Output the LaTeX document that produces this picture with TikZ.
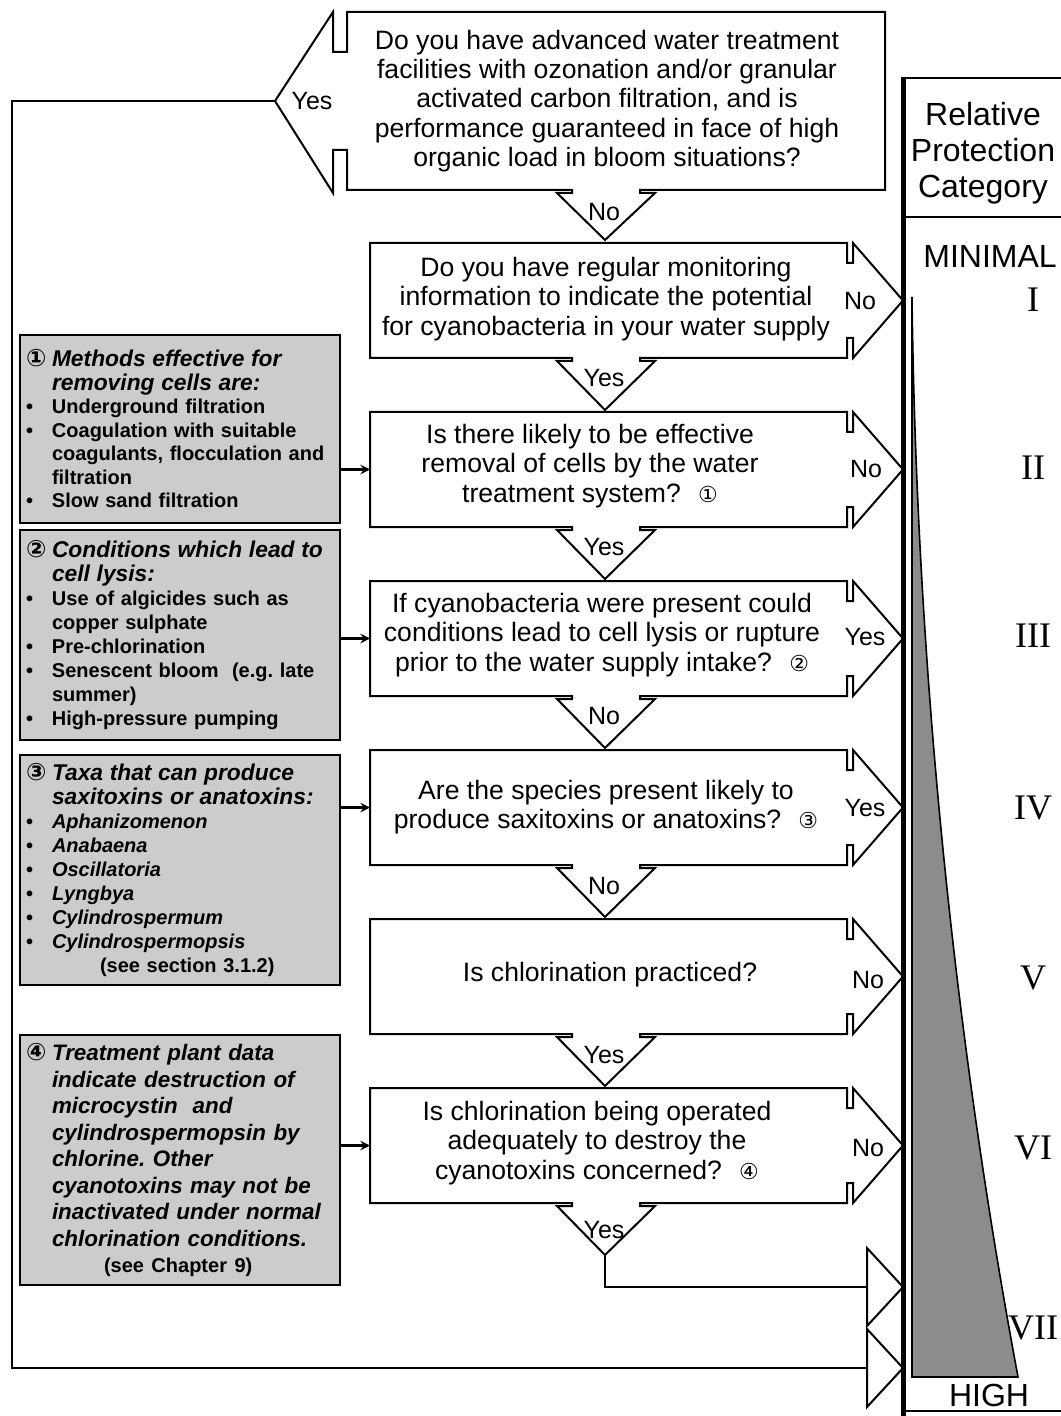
\documentclass[tikz,border=0pt]{standalone}
\usepackage{fontspec}
\setmainfont{Liberation Sans}
\newfontfamily\romfont{Liberation Serif}
\newfontfamily\circfont{DejaVu Sans}

\newcommand{\puce}{\makebox[13pt][l]{\textbullet}}
\newcommand{\retrait}{\hspace*{13pt}}
\newcommand{\numero}[1]{\makebox[13pt][l]{\circfont\fontsize{12}{10}\selectfont #1}}
\newcommand{\titre}{\fontsize{11.4}{11.75}\selectfont\itshape}
\newcommand{\rond}[1]{{\circfont\fontsize{11}{11}\selectfont #1}}

\begin{document}
\begin{tikzpicture}[x=0.5pt, y=-0.5pt,
    question/.style={inner sep=0pt, align=center, font=\fontsize{13.3}{14.6}\selectfont},
    reponse/.style={inner sep=0pt, font=\fontsize{12.5}{14}\selectfont},
    remarque/.style={draw, line width=0.8pt, fill=black!20, text width=154pt, inner xsep=3pt,
                     align=left, font=\frenchspacing\bfseries\fontsize{10}{12}\selectfont},
    contour/.style={line width=1pt, line join=miter},
    trait/.style={line width=1pt},
    fleche/.style={->, >=stealth, line width=1.1pt},
    categorie/.style={inner sep=0pt, align=center, font=\fontsize{16}{18}\selectfont},
    niveau/.style={inner sep=0pt, font=\romfont\fontsize{18}{18}\selectfont}
]
    \useasboundingbox (0,0) rectangle (1060,1416);

    % question boxes with their Yes/No arrows
    \draw[contour] (347,12) -- (885,12) -- (885,190) -- (640,190) -- (640,193) -- (655,193)
        -- (605,240) -- (557,193) -- (572,193) -- (572,190) -- (347,190) -- (347,150)
        -- (333,150) -- (333,193) -- (275,101) -- (333,12) -- (333,52) -- (347,52) -- cycle;
    \coordinate (oui0) at (275,101);

    \foreach \t [count=\i] in {243,412,581,750,919,1088}{
        \draw[contour] (370,\t) -- (847,\t) -- (847,\t+20) -- (853,\t+20) -- (853,\t)
            -- (903,\t+57.5) -- (853,\t+115) -- (853,\t+95) -- (847,\t+95) -- (847,\t+115)
            -- (640,\t+115) -- (640,\t+118) -- (655,\t+118) -- (605,\t+167) -- (557,\t+118)
            -- (572,\t+118) -- (572,\t+115) -- (370,\t+115) -- cycle;
        \coordinate (e\i) at (370,\t+57.5);
        \coordinate (v\i) at (605,\t+167);
    }

    \node[question] (q0) at (607,101) {Do you have advanced water treatment\\
        facilities with ozonation and/or granular\\ activated carbon filtration, and is\\
        performance guaranteed in face of high\\ organic load in bloom situations?};
    \node[question] (q1) at (606,299) {Do you have regular monitoring\\
        information to indicate the potential\\ for cyanobacteria in your water supply};
    \node[question] (q2) at (590,466) {Is there likely to be effective\\
        removal of cells by the water\\ treatment system?~ \rond{①}};
    \node[question] (q3) at (602,635) {If cyanobacteria were present could\\
        conditions lead to cell lysis or rupture\\ prior to the water supply intake?~ \rond{②}};
    \node[question] (q4) at (606,807) {Are the species present likely to\\
        produce saxitoxins or anatoxins?~ \rond{③}};
    \node[question] (q5) at (610,975) {Is chlorination practiced?};
    \node[question] (q6) at (597,1143) {Is chlorination being operated\\
        adequately to destroy the\\ cyanotoxins concerned?~ \rond{④}};

    \node[reponse] (r0) at (312,101) {Yes};
    \node[reponse] (b0) at (604,212) {No};
    \node[reponse] (r1) at (860,301) {No};
    \node[reponse] (b1) at (604,378) {Yes};
    \node[reponse] (r2) at (866,469) {No};
    \node[reponse] (b2) at (604,547) {Yes};
    \node[reponse] (r3) at (865,637) {Yes};
    \node[reponse] (b3) at (604,716) {No};
    \node[reponse] (r4) at (865,808) {Yes};
    \node[reponse] (b4) at (604,886) {No};
    \node[reponse] (r5) at (868,980) {No};
    \node[reponse] (b5) at (604,1055) {Yes};
    \node[reponse] (r6) at (868,1148) {No};
    \node[reponse] (b6) at (604,1230) {Yes};

    % side notes
    \node[remarque, minimum height=94pt, font=\frenchspacing\bfseries\fontsize{10}{11.75}\selectfont] (n1) at (180,429) {%
        \numero{①}{\titre Methods effective for}\\
        \retrait{\titre removing cells are:}\\
        \puce Underground filtration\\
        \puce Coagulation with suitable\\
        \retrait coagulants, flocculation and\\
        \retrait filtration\\
        \puce Slow sand filtration};
    \node[remarque, minimum height=105pt] (n2) at (180,635) {%
        \numero{②}{\titre Conditions which lead to}\\
        \retrait{\titre cell lysis:}\\
        \puce Use of algicides such as\\
        \retrait copper sulphate\\
        \puce Pre-chlorination\\
        \puce Senescent bloom~ (e.g. late\\
        \retrait summer)\\
        \puce High-pressure pumping};
    \node[remarque, minimum height=115pt] (n3) at (180,870) {%
        \numero{③}{\titre Taxa that can produce}\\
        \retrait{\titre saxitoxins or anatoxins:}\\
        \puce\textit{Aphanizomenon}\\
        \puce\textit{Anabaena}\\
        \puce\textit{Oscillatoria}\\
        \puce\textit{Lyngbya}\\
        \puce\textit{Cylindrospermum}\\
        \puce\textit{Cylindrospermopsis}\\
        \hspace*{37pt}(see section 3.1.2)};
    \node[remarque, minimum height=125pt, font=\frenchspacing\bfseries\itshape\fontsize{11.2}{13.25}\selectfont] (n4) at (180,1160) {%
        \numero{④}Treatment plant data\\
        \retrait indicate destruction of\\
        \retrait microcystin~ and\\
        \retrait cylindrospermopsin by\\
        \retrait chlorine. Other\\
        \retrait cyanotoxins may not be\\
        \retrait inactivated under normal\\
        \retrait chlorination conditions.\\
        \hspace*{39pt}{\upshape\fontsize{10}{13.25}\selectfont(see Chapter 9)}};

    \draw[fleche] (n1.east |- e2) -- (e2);
    \draw[fleche] (n2.east |- e3) -- (e3);
    \draw[fleche] (n3.east |- e4) -- (e4);
    \draw[fleche] (n4.east |- e6) -- (e6);

    % routes to the bottom of the scale
    \coordinate (entree1) at (867,1287);
    \coordinate (entree2) at (867,1368);
    \draw[trait] (v6) |- (entree1);
    \draw[trait] (oui0) -- ++(-263,0) |- (entree2);
    \draw[contour, fill=white] (867,1248) -- (903,1287) -- (867,1326) -- cycle;
    \draw[contour, fill=white] (867,1329) -- (903,1368) -- (867,1407) -- cycle;

    % protection scale
    \draw[line width=1.2pt] (903,78) -- (1062,78);
    \draw[line width=1.2pt] (903,217) -- (1062,217);
    \draw[line width=1.2pt] (903,1411) -- (1062,1411);
    \draw[line width=2.5pt] (903,77) -- (903,1416);
    \draw[line width=0.8pt, fill=black!45] (912,297) .. controls (918,800) and (985,1200) .. (1018,1377)
        -- (912,1377) -- cycle;

    \node[categorie] (cat) at (983,153) {Relative\\Protection\\Category};
    \node[categorie] (min) at (990,256) {MINIMAL};
    \node[categorie] (max) at (989,1395) {HIGH};
    \node[niveau] (c1) at (1033,300) {I};
    \node[niveau] (c2) at (1033,468) {II};
    \node[niveau] (c3) at (1033,636) {III};
    \node[niveau] (c4) at (1033,808) {IV};
    \node[niveau] (c5) at (1033,978) {V};
    \node[niveau] (c6) at (1033,1148) {VI};
    \node[niveau] (c7) at (1033,1328) {VII};
\end{tikzpicture}
\end{document}
